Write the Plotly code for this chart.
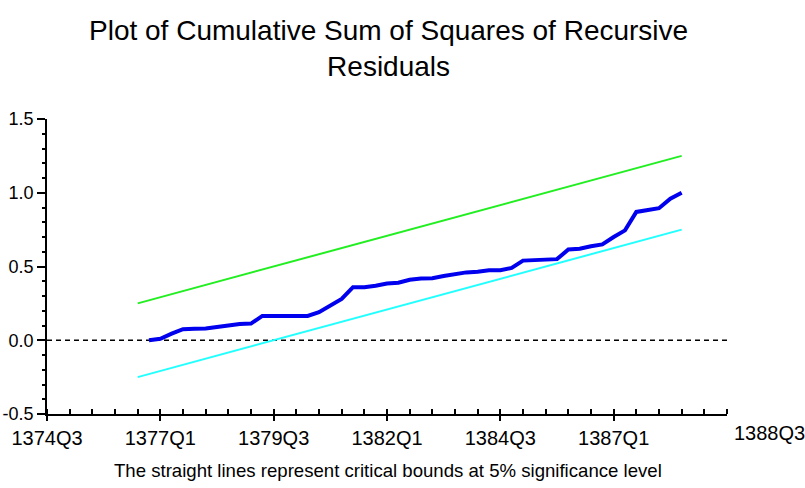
import plotly.graph_objects as go

# ---- data ----
START = "1374Q3"
TICK_LABELS = ["1374Q3", "1377Q1", "1379Q3", "1382Q1", "1384Q3", "1387Q1"]
END_LABEL = "1388Q3"

CUSUMSQ_START = "1376Q4"
CUSUMSQ = [0.00, 0.01, 0.045, 0.075, 0.078, 0.08, 0.09, 0.10, 0.11, 0.113,
           0.165, 0.165, 0.165, 0.165, 0.165, 0.19, 0.235, 0.28, 0.36, 0.36,
           0.37, 0.385, 0.39, 0.41, 0.418, 0.42, 0.435, 0.447, 0.46, 0.465,
           0.475, 0.475, 0.49, 0.54, 0.545, 0.547, 0.55, 0.615, 0.62, 0.637,
           0.65, 0.70, 0.745, 0.87, 0.88, 0.895, 0.96, 1.0]

BOUND_PERIODS = ["1376Q3", "1388Q3"]
UPPER_BOUND = [0.25, 1.25]
LOWER_BOUND = [-0.25, 0.75]

TITLE = "Plot of Cumulative Sum of Squares of Recursive<br>Residuals"
CAPTION = "The straight lines represent critical bounds at 5% significance level"


def qidx(label):
    y, q = int(label[:4]), int(label[-1])
    y0, q0 = int(START[:4]), int(START[-1])
    return (y * 4 + q) - (y0 * 4 + q0)


s0 = qidx(CUSUMSQ_START)
x_cus = [s0 + i for i in range(len(CUSUMSQ))]
x_bnd = [qidx(p) for p in BOUND_PERIODS]

FONT = "Liberation Sans, Arial, sans-serif"

fig = go.Figure()
fig.add_trace(go.Scatter(x=[0, 60], y=[0, 0], mode="lines",
                         line=dict(color="black", width=1.6, dash="5px,4px"),
                         hoverinfo="skip", showlegend=False))
fig.add_trace(go.Scatter(x=x_bnd, y=UPPER_BOUND, mode="lines",
                         line=dict(color="#22ee22", width=2), showlegend=False))
fig.add_trace(go.Scatter(x=x_bnd, y=LOWER_BOUND, mode="lines",
                         line=dict(color="#22ffff", width=2), showlegend=False))
fig.add_trace(go.Scatter(x=x_cus, y=CUSUMSQ, mode="lines",
                         line=dict(color="#0000ee", width=4), showlegend=False))

# title (two centred lines)
fig.add_annotation(x=0.502, xref="paper", y=1.36, yref="paper", text=TITLE,
                   showarrow=False, yanchor="top", xanchor="center",
                   font=dict(family=FONT, size=28, color="black"))
# last period label, placed right of the axis end as in the reference
fig.add_annotation(x=1.062, xref="paper", y=0, yref="paper", text=END_LABEL,
                   showarrow=False, yanchor="top", xanchor="center", yshift=-6,
                   font=dict(family=FONT, size=20, color="black"))
fig.add_annotation(x=0.502, xref="paper", y=-0.193, yref="paper", text=CAPTION,
                   showarrow=False, yanchor="middle", xanchor="center",
                   font=dict(family=FONT, size=18.6, color="black"))

fig.update_layout(
    width=805, height=488,
    margin=dict(l=47, r=78, t=119, b=74, autoexpand=False),
    paper_bgcolor="white", plot_bgcolor="white",
    font=dict(family=FONT, color="black"),
    xaxis=dict(range=[0, 60], showgrid=False, zeroline=False, automargin=False,
               showline=True, linecolor="black", linewidth=1.5,
               tickmode="array", tickvals=[qidx(t) for t in TICK_LABELS],
               ticktext=TICK_LABELS, ticks="outside", ticklen=5,
               tickcolor="black", tickwidth=1.5,
               tickfont=dict(family=FONT, size=20),
               minor=dict(dtick=2, tick0=0, ticks="inside", ticklen=5,
                          tickcolor="black", tickwidth=1.5)),
    yaxis=dict(range=[-0.5, 1.5], showgrid=False, zeroline=False, automargin=False,
               showline=True, linecolor="black", linewidth=1.5,
               tickmode="array", tickvals=[-0.5, 0, 0.5, 1.0, 1.5],
               ticktext=["-0.5", "0.0", "0.5", "1.0", "1.5"],
               ticks="outside", ticklen=8, tickcolor="black", tickwidth=1.5,
               tickfont=dict(family=FONT, size=18), ticklabelstandoff=0,
               minor=dict(dtick=0.1, tick0=0, ticks="outside", ticklen=3,
                          tickcolor="black", tickwidth=1.5)),
)

fig.write_html("out.html", config={"displayModeBar": False},
               post_script="document.body.style.margin='0';document.body.style.overflow='hidden';")
